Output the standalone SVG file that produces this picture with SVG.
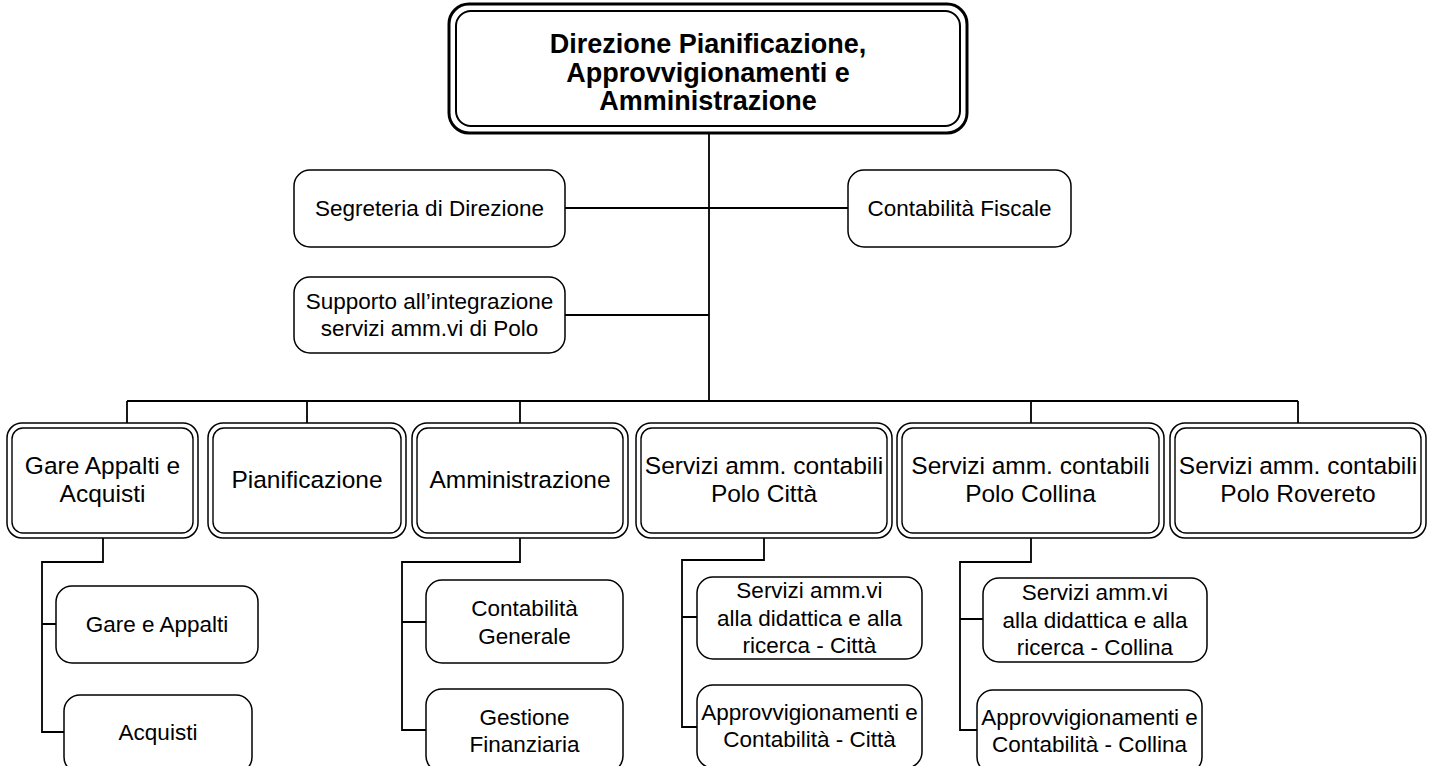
<svg xmlns="http://www.w3.org/2000/svg" width="1434" height="766" viewBox="0 0 1434 766">
<style>
text{font-family:"Liberation Sans",Arial,sans-serif;font-size:22.5px;fill:#000;text-anchor:middle}
.title{font-weight:bold;font-size:27px}
.big{font-size:24.5px}
.box{fill:#fff;stroke:#000;stroke-width:1.5}
.dbl{fill:none;stroke:#000;stroke-width:1.4}
.conn{fill:none;stroke:#000;stroke-width:1.8}
</style>
<rect width="1434" height="766" fill="#fff"/>
<g id="connectors" class="conn">
<path d="M709 133V401M127 401H1298M127 401V423M307 401V423M520 401V423M1031 401V423M1298 401V423"/>
<path d="M565 208H848M565 315H709"/>
<path d="M103 538V562H42V732H64M42 624H56"/>
<path d="M520 538V562H402V730H426M402 622H426"/>
<path d="M764 538V560H682V727H697M682 617H697"/>
<path d="M1031 538V562H960V730H977M960 619H983"/>
</g>
<g id="n-direzione">
<rect x="449" y="4" width="518" height="129" rx="20" fill="#fff" stroke="#000" stroke-width="3"/>
<rect x="456" y="11" width="504" height="115" rx="15" fill="none" stroke="#000" stroke-width="2"/>
<text class="title" x="708" y="53">Direzione Pianificazione,</text>
<text class="title" x="708" y="82">Approvvigionamenti e</text>
<text class="title" x="708" y="110">Amministrazione</text>
</g>
<g id="n-segreteria"><rect class="box" x="294" y="170" width="271" height="77" rx="16"/><text x="429.5" y="216">Segreteria di Direzione</text></g>
<g id="n-fiscale"><rect class="box" x="848" y="170" width="223" height="77" rx="16"/><text x="959.5" y="216">Contabilità Fiscale</text></g>
<g id="n-supporto"><rect class="box" x="294" y="277" width="271" height="76" rx="16"/><text x="429.5" y="309">Supporto all’integrazione</text><text x="429.5" y="336">servizi amm.vi di Polo</text></g>
<g id="n-gare"><rect class="box" x="7" y="423" width="191" height="115" rx="15"/><rect class="dbl" x="12" y="428" width="181" height="105" rx="11"/><text class="big" x="102.5" y="474">Gare Appalti e</text><text class="big" x="102.5" y="502">Acquisti</text></g>
<g id="n-pianificazione"><rect class="box" x="208" y="423" width="198" height="115" rx="15"/><rect class="dbl" x="213" y="428" width="188" height="105" rx="11"/><text class="big" x="307" y="488">Pianificazione</text></g>
<g id="n-amministrazione"><rect class="box" x="412" y="423" width="216" height="115" rx="15"/><rect class="dbl" x="417" y="428" width="206" height="105" rx="11"/><text class="big" x="520" y="488">Amministrazione</text></g>
<g id="n-citta"><rect class="box" x="636" y="423" width="256" height="115" rx="15"/><rect class="dbl" x="641" y="428" width="246" height="105" rx="11"/><text class="big" x="764" y="474">Servizi amm. contabili</text><text class="big" x="764" y="502">Polo Città</text></g>
<g id="n-collina"><rect class="box" x="897" y="423" width="267" height="115" rx="15"/><rect class="dbl" x="902" y="428" width="257" height="105" rx="11"/><text class="big" x="1030.5" y="474">Servizi amm. contabili</text><text class="big" x="1030.5" y="502">Polo Collina</text></g>
<g id="n-rovereto"><rect class="box" x="1170" y="423" width="256" height="115" rx="15"/><rect class="dbl" x="1175" y="428" width="246" height="105" rx="11"/><text class="big" x="1298" y="474">Servizi amm. contabili</text><text class="big" x="1298" y="502">Polo Rovereto</text></g>
<g id="n-gare-appalti"><rect class="box" x="56" y="586" width="202" height="77" rx="16"/><text x="157" y="632">Gare e Appalti</text></g>
<g id="n-acquisti"><rect class="box" x="64" y="695" width="188" height="78" rx="16"/><text x="158" y="740">Acquisti</text></g>
<g id="n-cont-generale"><rect class="box" x="426" y="580" width="197" height="83" rx="16"/><text x="524.5" y="616">Contabilità</text><text x="524.5" y="644">Generale</text></g>
<g id="n-gest-fin"><rect class="box" x="426" y="689" width="197" height="83" rx="16"/><text x="524.5" y="725">Gestione</text><text x="524.5" y="752">Finanziaria</text></g>
<g id="n-did-citta"><rect class="box" x="697" y="577" width="225" height="82" rx="16"/><text x="809.5" y="598">Servizi amm.vi</text><text x="809.5" y="626">alla didattica e alla</text><text x="809.5" y="653">ricerca - Città</text></g>
<g id="n-appr-citta"><rect class="box" x="697" y="685" width="225" height="83" rx="16"/><text x="809.5" y="720">Approvvigionamenti e</text><text x="809.5" y="747">Contabilità - Città</text></g>
<g id="n-did-collina"><rect class="box" x="983" y="578" width="224" height="84" rx="16"/><text x="1095" y="600">Servizi amm.vi</text><text x="1095" y="628">alla didattica e alla</text><text x="1095" y="655">ricerca - Collina</text></g>
<g id="n-appr-collina"><rect class="box" x="977" y="690" width="225" height="83" rx="16"/><text x="1089.5" y="725">Approvvigionamenti e</text><text x="1089.5" y="752">Contabilità - Collina</text></g>
</svg>
